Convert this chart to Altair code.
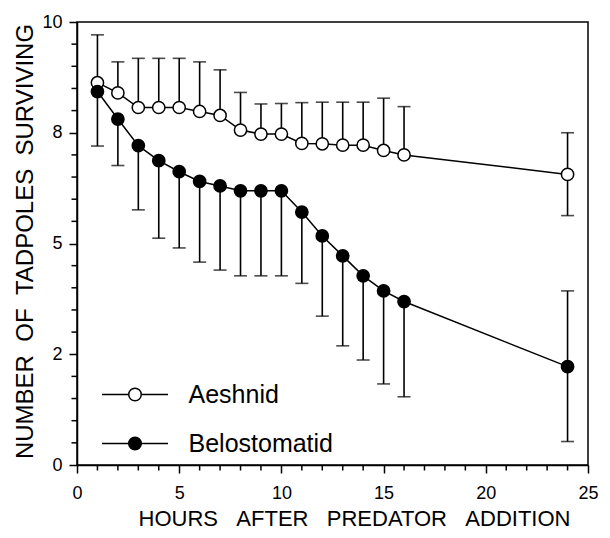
import altair as alt
import pandas as pd

# ---- data ----
hours = [1, 2, 3, 4, 5, 6, 7, 8, 9, 10, 11, 12, 13, 14, 15, 16, 24]

aeshnid_mean = [8.63, 8.40, 8.07, 8.07, 8.07, 7.98, 7.89, 7.56, 7.47, 7.47,
                7.26, 7.25, 7.22, 7.22, 7.10, 7.00, 6.56]
aeshnid_hi = [9.71, 9.10, 9.18, 9.18, 9.18, 9.10, 8.92, 8.41, 8.15, 8.16,
              8.18, 8.19, 8.19, 8.19, 8.28, 8.09, 7.50]
aeshnid_lo = [None] * 16 + [5.63]

belo_mean = [8.43, 7.81, 7.21, 6.87, 6.62, 6.40, 6.30, 6.19, 6.19, 6.19,
             5.71, 5.17, 4.72, 4.27, 3.93, 3.69, 2.22]
belo_lo = [7.20, 6.76, 5.76, 5.12, 4.90, 4.58, 4.40, 4.27, 4.27, 4.27,
           4.10, 3.36, 2.69, 2.37, 1.83, 1.54, 0.53]
belo_hi = [None] * 16 + [3.93]

series_names = ["Aeshnid", "Belostomatid"]
x_major = [0, 5, 10, 15, 20, 25]
x_minor = [v for v in range(0, 26) if v % 5 != 0]
y_major = [0, 2.5, 5, 7.5, 10]
y_major_labels = ["0", "2", "5", "8", "10"]
y_minor = [i * 0.5 for i in range(21) if (i * 0.5) not in y_major]

# ---- tables ----
pts, errs = [], []
for name, mean, lo, hi in [
    (series_names[0], aeshnid_mean, aeshnid_lo, aeshnid_hi),
    (series_names[1], belo_mean, belo_lo, belo_hi),
]:
    for h, m, l, u in zip(hours, mean, lo, hi):
        pts.append({"hours": h, "value": m, "series": name})
        for end in (l, u):
            if end is not None:
                errs.append({"hours": h, "series": name, "y": m, "end": end})

df_pts = pd.DataFrame(pts)
df_err = pd.DataFrame(errs)
df_xminor = pd.DataFrame({"v": x_minor})
df_yminor = pd.DataFrame({"v": y_minor})

xs = alt.Scale(domain=[0, 25], nice=False, zero=False)
ys = alt.Scale(domain=[0, 10], nice=False, zero=False)

y_label_expr = " : ".join(
    f"datum.value == {v} ? '{t}'" for v, t in zip(y_major, y_major_labels)
) + " : datum.label"

sp = "\u00a0\u00a0\u00a0"

x_axis = alt.Axis(
    values=x_major,
    tickSize=8,
    title=sp.join(["HOURS", "AFTER", "PREDATOR", "ADDITION"]),
    titleFontSize=22,
    titleFontWeight="normal",
    titleX=277,
    titleY=60,
    titleBaseline="alphabetic",
    labelFontSize=18,
    labelPadding=11,
    labelOverlap=False,
    labelFlush=False,
    grid=False,
)
y_axis = alt.Axis(
    values=y_major,
    labelExpr=y_label_expr,
    tickSize=8,
    title="\u00a0\u00a0".join(["NUMBER", "OF", "TADPOLES", "SURVIVING"]),
    titleFontSize=24,
    titleFontWeight="normal",
    titleX=-45,
    titleY=219,
    titleBaseline="alphabetic",
    labelFontSize=18,
    labelPadding=7,
    labelOverlap=False,
    labelFlush=False,
    grid=False,
)

base_pts = alt.Chart(df_pts)

lines = base_pts.mark_line(color="black", strokeWidth=1.5).encode(
    x=alt.X("hours:Q", scale=xs, axis=x_axis),
    y=alt.Y("value:Q", scale=ys, axis=y_axis),
    detail="series:N",
)

# minor ticks (outside the frame, like the axis ticks)
x_minor_ticks = alt.Chart(df_xminor).mark_rule(color="black", strokeWidth=1.5).encode(
    x="v:Q", y=alt.value(443), y2=alt.value(448.5)
)
y_minor_ticks = alt.Chart(df_yminor).mark_rule(color="black", strokeWidth=1.5).encode(
    y="v:Q", x=alt.value(0), x2=alt.value(-5.5)
)

rules = alt.Chart(df_err).mark_rule(color="black", strokeWidth=1.6).encode(
    x="hours:Q", y="y:Q", y2="end:Q"
)
caps = alt.Chart(df_err).mark_tick(
    color="black", orient="horizontal", size=13, thickness=1.6
).encode(x="hours:Q", y="end:Q")

legend_path = ("M-2,0H-0.38M0.38,0H2M-0.38,0A0.38,0.38,0,1,0,0.38,0"
               "A0.38,0.38,0,1,0,-0.38,0Z")

points = base_pts.mark_point(
    shape="circle", size=150, stroke="black", strokeWidth=1.5, opacity=1
).encode(
    x="hours:Q",
    y="value:Q",
    fill=alt.Fill(
        "series:N",
        scale=alt.Scale(domain=series_names, range=["white", "black"]),
        legend=alt.Legend(
            title=None,
            orient="none",
            legendX=25,
            legendY=355,
            symbolType=legend_path,
            symbolSize=1089,
            symbolStrokeColor="black",
            symbolStrokeWidth=1.5,
            symbolOpacity=1,
            symbolOffset=15.5,
            labelOffset=36,
            labelFontSize=25,
            labelColor="black",
            rowPadding=18,
            padding=0,
        ),
    ),
)

chart = (
    alt.layer(lines, x_minor_ticks, y_minor_ticks, rules, caps, points)
    .properties(
        width=511,
        height=443,
        autosize=alt.AutoSizeParams(type="none"),
        padding={"left": 69, "top": 14, "right": 14, "bottom": 65},
        background="white",
    )
    .configure_view(stroke="black", strokeWidth=1.5)
    .configure_axis(
        domainColor="black",
        domainWidth=1.5,
        tickColor="black",
        tickWidth=1.5,
        labelColor="black",
        titleColor="black",
        labelFont="Liberation Sans",
        titleFont="Liberation Sans",
    )
    .configure_legend(labelFont="Liberation Sans")
)

chart.save("out.html", embed_options={"renderer": "svg", "actions": False})
